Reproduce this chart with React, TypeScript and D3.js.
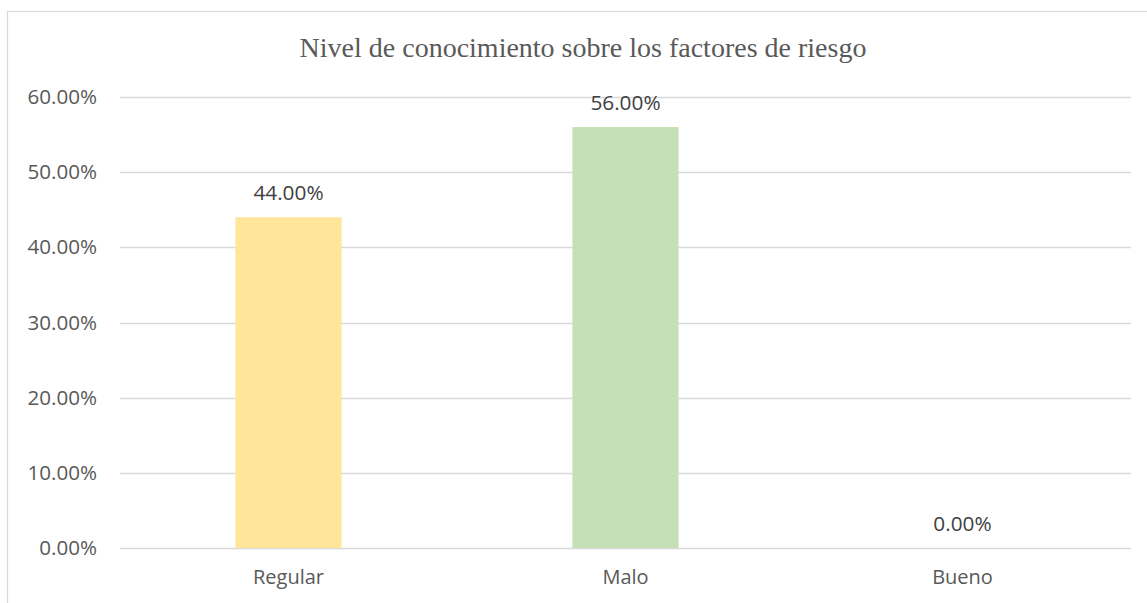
import React, { useEffect, useRef } from 'react';
import * as d3 from 'd3';

// chart data
const categories = ['Regular', 'Malo', 'Bueno'];
const values = [0.44, 0.56, 0.0];
const barColors = ['#FFE699', '#C5E0B4', '#DEEBF7'];
const yTicks = [0, 0.1, 0.2, 0.3, 0.4, 0.5, 0.6];
const title = 'Nivel de conocimiento sobre los factores de riesgo';

const App = () => {
    const ref = useRef<SVGSVGElement | null>(null);
    const width = 1147;
    const height = 603;
    const margin = {
        top: 97, right: 16, bottom: 55, left: 120,
    };

    useEffect(() => {
        document.body.style.margin = '0';
        const svg = d3.select(ref.current);
        svg.selectAll('*').remove();

        const textColor = '#595959';
        const gridColor = '#D9D9D9';

        // outer chart border (right/bottom edges run off the picture)
        svg.append('rect')
            .attr('x', 7.5)
            .attr('y', 11.5)
            .attr('width', 1160)
            .attr('height', 620)
            .attr('fill', '#fff')
            .attr('stroke', gridColor)
            .attr('stroke-width', 1.2);

        const x = d3.scaleBand()
            .domain(categories)
            .range([margin.left, width - margin.right])
            .paddingInner(0.685)
            .paddingOuter(0.3425);

        const y = d3.scaleLinear()
            .domain([0, 0.6])
            .range([height - margin.bottom, margin.top]);

        // gridlines
        svg.append('g')
            .selectAll('line')
            .data(yTicks)
            .enter()
            .append('line')
            .attr('x1', margin.left)
            .attr('x2', width - margin.right)
            .attr('y1', (d) => Math.round(y(d)) + 0.5)
            .attr('y2', (d) => Math.round(y(d)) + 0.5)
            .attr('stroke', gridColor)
            .attr('stroke-width', 1.3);

        // y axis labels
        const yAxis = d3.axisLeft(y)
            .tickValues(yTicks)
            .tickSize(0)
            .tickPadding(23)
            .tickFormat((d) => `${(+d * 100).toFixed(2)}%`);

        const yG = svg.append('g')
            .attr('transform', `translate(${margin.left},0)`)
            .call(yAxis);
        yG.select('.domain').remove();
        yG.selectAll('text')
            .attr('fill', textColor)
            .style('font-family', '"Open Sans", sans-serif')
            .style('font-size', '20.6px');

        // bars
        svg.append('g')
            .selectAll('rect')
            .data(values)
            .enter()
            .append('rect')
            .attr('x', (d, i) => x(categories[i]) as number)
            .attr('y', (d) => y(d))
            .attr('width', x.bandwidth())
            .attr('height', (d) => y(0) - y(d))
            .attr('fill', (d, i) => barColors[i]);

        // value labels
        svg.append('g')
            .selectAll('text')
            .data(values)
            .enter()
            .append('text')
            .attr('x', (d, i) => (x(categories[i]) as number) + x.bandwidth() / 2)
            .attr('y', (d) => y(d) - 17.5)
            .attr('text-anchor', 'middle')
            .attr('fill', '#404040')
            .style('font-family', '"Open Sans", sans-serif')
            .style('font-size', '20.8px')
            .text((d) => `${(d * 100).toFixed(2)}%`);

        // x axis labels
        const xAxis = d3.axisBottom(x)
            .tickSize(0)
            .tickPadding(22);
        const xG = svg.append('g')
            .attr('transform', `translate(0,${height - margin.bottom})`)
            .call(xAxis);
        xG.select('.domain').remove();
        xG.selectAll('text')
            .attr('fill', textColor)
            .style('font-family', '"Open Sans", sans-serif')
            .style('font-size', '20px');

        // title
        svg.append('text')
            .attr('x', 583)
            .attr('y', 57)
            .attr('text-anchor', 'middle')
            .attr('fill', textColor)
            .style('font-family', '"Liberation Serif", "Times New Roman", serif')
            .style('font-size', '28px')
            .text(title);
    }, []);

    return (
        <svg ref={ref} width={width} height={height} style={{ display: 'block' }} />
    );
};

export default App;
